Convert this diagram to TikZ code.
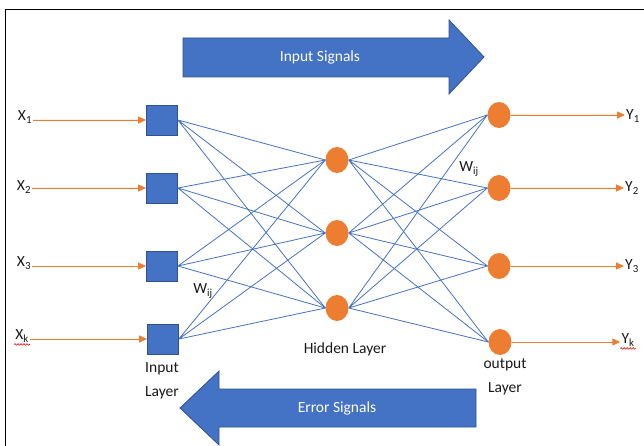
\documentclass[tikz,border=0pt]{standalone}
\usepackage{fontspec}
\setmainfont{Carlito}
\usetikzlibrary{shapes,arrows.meta,positioning,decorations.pathmorphing}
\definecolor{offblue}{HTML}{4472C4}
\definecolor{offdark}{HTML}{2F528F}
\definecolor{offorange}{HTML}{ED7D31}

\begin{document}
\begin{tikzpicture}[x=1pt,y=-1pt,
  every node/.style={font=\fontsize{15.5}{18}\selectfont,text=black!90,},%
  sq/.style={draw=offdark,fill=offblue,minimum width=31pt,minimum height=30pt,
    inner sep=0pt,line width=0.8pt,},%
  oc/.style={ellipse,fill=offorange,minimum width=23pt,minimum height=26pt,
    inner sep=0pt,},%
  e/.style={draw=offblue,line width=0.8pt,},%
  oa/.style={-{Triangle[length=8pt,width=7pt]},draw=offorange,fill=offorange,
    line width=0.9pt,},%
  big/.style={fill=offblue,draw=offdark,line width=0.8pt,},%
  lb/.style={inner sep=1pt,},%
  two/.style={align=center,font=\fontsize{15.5}{24}\selectfont,},%
  sp/.style={draw=red,decorate,decoration={snake,amplitude=0.8pt,
    segment length=3pt},line width=0.6pt,},%
  ]

  \useasboundingbox (0,0) rectangle (644,446);
  \draw [line width=1pt] (5,446) -- (5,10) -- (644,10);

  % signal arrows
  \draw [big] (183,38) -- (449,38) -- (449,20) -- (484,57) -- (449,94)
    -- (449,77) -- (183,77) -- cycle;
  \node (insig) [text=white] at (320,57) {Input Signals};
  \draw [big] (476,389) -- (219,389) -- (219,371) -- (180,408) -- (219,445)
    -- (219,427) -- (476,427) -- cycle;
  \node (errsig) [text=white] at (337,408) {Error Signals};

  % input layer
  \node (in1) [sq] at (162,120) {};
  \node (in2) [sq] at (162,188) {};
  \node (in3) [sq] at (162,266) {};
  \node (in4) [sq] at (163,339) {};
  \node (inlab) [two] at (162,381) {Input\\Layer};

  \node (x1) [lb] at (25,117) {X\textsubscript{1}};
  \node (x2) [lb] at (24,187) {X\textsubscript{2}};
  \node (x3) [lb] at (24,263) {X\textsubscript{3}};
  \node (xk) [lb] at (22,336) {X\textsubscript{k}};

  % hidden layer
  \node (h1) [oc] at (337,160) {};
  \node (h2) [oc] at (337,233) {};
  \node (h3) [oc] at (337,308) {};
  \node (hlab) at (345,349) {Hidden Layer};

  % output layer
  \node (o1) [oc] at (499,115) {};
  \node (o2) [oc] at (499,188) {};
  \node (o3) [oc] at (499,266) {};
  \node (o4) [oc] at (500,342) {};
  \node (olab) [two] at (505,377) {output\\Layer};

  \node (y1) [lb] at (633,116) {Y\textsubscript{1}};
  \node (y2) [lb] at (632,188) {Y\textsubscript{2}};
  \node (y3) [lb] at (632,266) {Y\textsubscript{3}};
  \node (yk) [lb] at (628,340) {Y\textsubscript{k}};

  \node (w1) [lb] at (203,291) {W\textsubscript{ij}};
  \node (w2) [lb] at (469,169) {W\textsubscript{ij}};

  % weights
  \draw [e] (in1.east) -- (h1.west) (in1.east) -- (h2.west) (in1.east) -- (h3.west);
  \draw [e] (in2.east) -- (h1.west) (in2.east) -- (h2.west) (in2.east) -- (h3.west);
  \draw [e] (in3.east) -- (h1.west) (in3.east) -- (h2.west) (in3.east) -- (h3.west);
  \draw [e] (in4.east) -- (h1.west) (in4.east) -- (h2.west) (in4.east) -- (h3.west);
  \draw [e] (h1.east) -- (o1.west) (h1.east) -- (o2.west) (h1.east) -- (o3.west)
    (h1.east) -- (o4.west);
  \draw [e] (h2.east) -- (o1.west) (h2.east) -- (o2.west) (h2.east) -- (o3.west)
    (h2.east) -- (o4.west);
  \draw [e] (h3.east) -- (o1.west) (h3.east) -- (o2.west) (h3.east) -- (o3.west)
    (h3.east) -- (o4.west);

  % in and out
  \draw [oa] (x1.east |- in1) -- (in1.west);
  \draw [oa] (x2.east |- in2) -- (in2.west);
  \draw [oa] (x3.east |- in3) -- (in3.west);
  \draw [oa] (xk.east |- in4) -- (in4.west);
  \draw [oa] (o1.east) -- (o1 -| y1.west);
  \draw [oa] (o2.east) -- (o2 -| y2.west);
  \draw [oa] (o3.east) -- (o3 -| y3.west);
  \draw [oa] (o4.east) -- (o4 -| yk.west);

  % spell check marks
  \path [sp] ([yshift=-1pt]xk.south west) -- ([yshift=-1pt]xk.south east);
  \path [sp] ([yshift=-1pt]yk.south west) -- ([yshift=-1pt]yk.south east);
\end{tikzpicture}
\end{document}
